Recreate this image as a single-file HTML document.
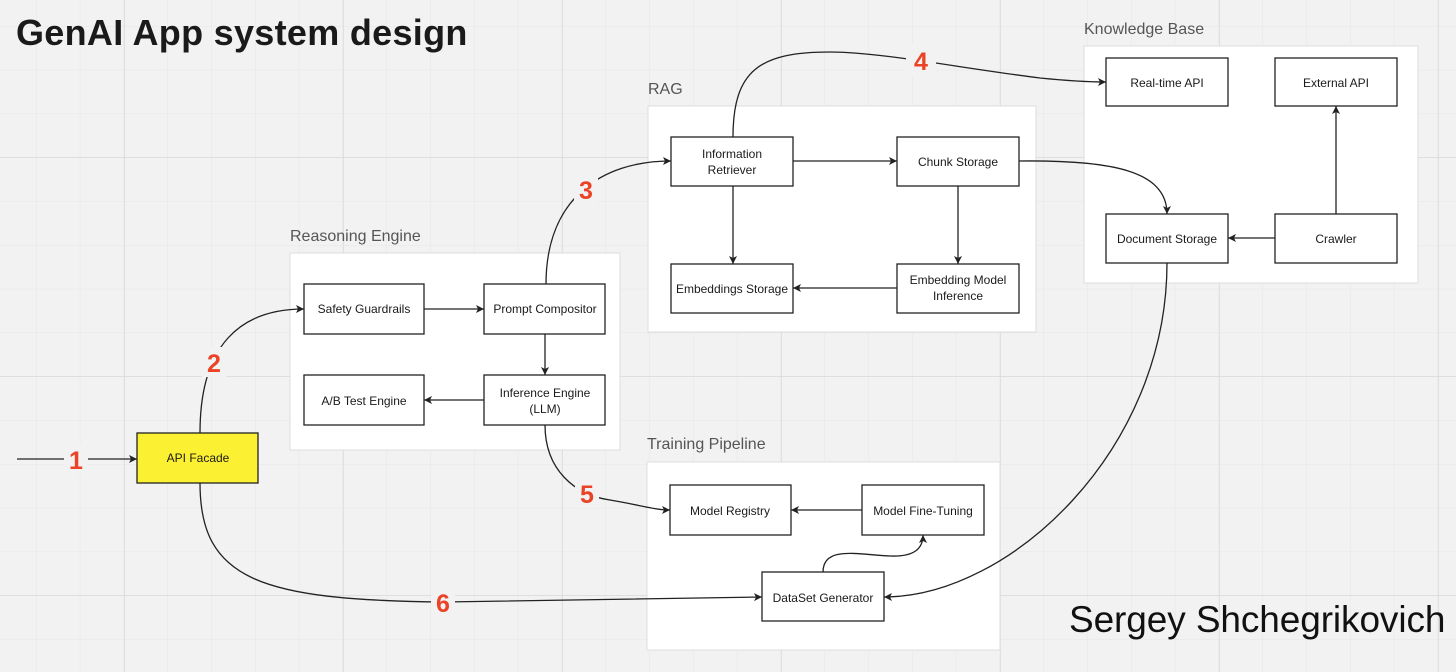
<!DOCTYPE html>
<html><head><meta charset="utf-8"><style>
html,body{margin:0;padding:0;background:#f2f2f2;}
svg{display:block;}
text{font-family:"Liberation Sans",sans-serif;}
</style></head><body>
<svg width="1456" height="672" viewBox="0 0 1456 672" xmlns="http://www.w3.org/2000/svg">
<defs>
<pattern id="minor" x="36" y="26" width="43.8" height="43.8" patternUnits="userSpaceOnUse">
<path d="M0 0 H43.8 M0 0 V43.8" stroke="#e6e6e6" stroke-width="1" fill="none"/>
</pattern>
<pattern id="major" x="124" y="157" width="219" height="219" patternUnits="userSpaceOnUse">
<path d="M0 0 H219 M0 0 V219" stroke="#dadada" stroke-width="1.5" fill="none"/>
</pattern>
<marker id="ar" markerWidth="10" markerHeight="10" refX="8" refY="5" orient="auto" markerUnits="userSpaceOnUse">
<path d="M0,1 L8,5 L0,9 L2,5 Z" fill="#222"/>
</marker>
</defs>
<rect width="1456" height="672" fill="#f2f2f2"/>
<rect width="1456" height="672" fill="url(#minor)"/>
<rect width="1456" height="672" fill="url(#major)"/>

<text x="16" y="45" font-size="36" font-weight="bold" fill="#1a1a1a" letter-spacing="0.3">GenAI App system design</text>

<g fill="#555" font-size="16">
<text x="290" y="241">Reasoning Engine</text>
<text x="648" y="94">RAG</text>
<text x="1084" y="34">Knowledge Base</text>
<text x="647" y="449">Training Pipeline</text>
</g>

<g fill="#fff" stroke="#ddd" stroke-width="1">
<rect x="290" y="253" width="330" height="197"/>
<rect x="648" y="106" width="388" height="226"/>
<rect x="1084" y="46" width="334" height="237"/>
<rect x="647" y="462" width="353" height="188"/>
</g>

<g stroke="#222" stroke-width="1.3" fill="none" marker-end="url(#ar)">
<path d="M17,459 L137,459"/>
<path d="M200,433 C200,345 240,309 304,309"/>
<path d="M424,309 L484,309"/>
<path d="M545,334 L545,375"/>
<path d="M484,400 L424,400"/>
<path d="M546,284 C546,200 600,161 671,161"/>
<path d="M733,137 C733,70 760,52 830,52 C880,52 960,68 1040,78 C1070,81 1090,82 1106,82"/>
<path d="M793,161 L897,161"/>
<path d="M733,186 L733,264"/>
<path d="M958,186 L958,264"/>
<path d="M897,288 L793,288"/>
<path d="M1019,161 C1110,160 1167,170 1167,214"/>
<path d="M1275,238 L1228,238"/>
<path d="M1336,214 L1336,106"/>
<path d="M1167,263 C1167,450 1010,597 884,597"/>
<path d="M545,425 C545,470 575,495 610,500 C640,505 655,510 670,510"/>
<path d="M862,510 L791,510"/>
<path d="M823,572 C823,545 860,555 890,556 C915,557 923,548 923,535"/>
<path d="M200,483 C200,580 260,600 443,602 L762,597"/>
</g>

<g stroke="#222" stroke-width="1.3" fill="#fff">
<rect x="304" y="284" width="120" height="50"/>
<rect x="484" y="284" width="121" height="50"/>
<rect x="304" y="375" width="120" height="50"/>
<rect x="484" y="375" width="121" height="50"/>
<rect x="137" y="433" width="121" height="50" fill="#fcf032"/>
<rect x="671" y="137" width="122" height="49"/>
<rect x="897" y="137" width="122" height="49"/>
<rect x="671" y="264" width="122" height="49"/>
<rect x="897" y="264" width="122" height="49"/>
<rect x="1106" y="58" width="122" height="48"/>
<rect x="1275" y="58" width="122" height="48"/>
<rect x="1106" y="214" width="122" height="49"/>
<rect x="1275" y="214" width="122" height="49"/>
<rect x="670" y="485" width="121" height="50"/>
<rect x="862" y="485" width="122" height="50"/>
<rect x="762" y="572" width="122" height="49"/>
</g>

<g font-size="12" fill="#1a1a1a" text-anchor="middle">
<text x="364" y="313">Safety Guardrails</text>
<text x="545" y="313">Prompt Compositor</text>
<text x="364" y="405">A/B Test Engine</text>
<text x="545" y="397">Inference Engine</text>
<text x="545" y="413">(LLM)</text>
<text x="198" y="462">API Facade</text>
<text x="732" y="158">Information</text>
<text x="732" y="174">Retriever</text>
<text x="958" y="166">Chunk Storage</text>
<text x="732" y="293">Embeddings Storage</text>
<text x="958" y="284">Embedding Model</text>
<text x="958" y="300">Inference</text>
<text x="1167" y="87">Real-time API</text>
<text x="1336" y="87">External API</text>
<text x="1167" y="243">Document Storage</text>
<text x="1336" y="243">Crawler</text>
<text x="730" y="515">Model Registry</text>
<text x="923" y="515">Model Fine-Tuning</text>
<text x="823" y="602">DataSet Generator</text>
</g>

<g fill="#f2f2f2">
<rect x="64" y="444" width="24" height="30"/>
<rect x="202" y="347" width="24" height="30"/>
<rect x="574" y="174" width="24" height="30"/>
<rect x="906" y="44" width="30" height="32"/>
<rect x="575" y="478" width="24" height="30"/>
<rect x="431" y="587" width="24" height="30"/>
</g>
<g fill="#ea4326" font-size="25" font-weight="bold" text-anchor="middle">
<text x="76" y="469">1</text>
<text x="214" y="372">2</text>
<text x="586" y="199">3</text>
<text x="921" y="70">4</text>
<text x="587" y="503">5</text>
<text x="443" y="612">6</text>
</g>

<text x="1069" y="632" font-size="37" fill="#111" letter-spacing="-0.1">Sergey Shchegrikovich</text>
</svg>
</body></html>
